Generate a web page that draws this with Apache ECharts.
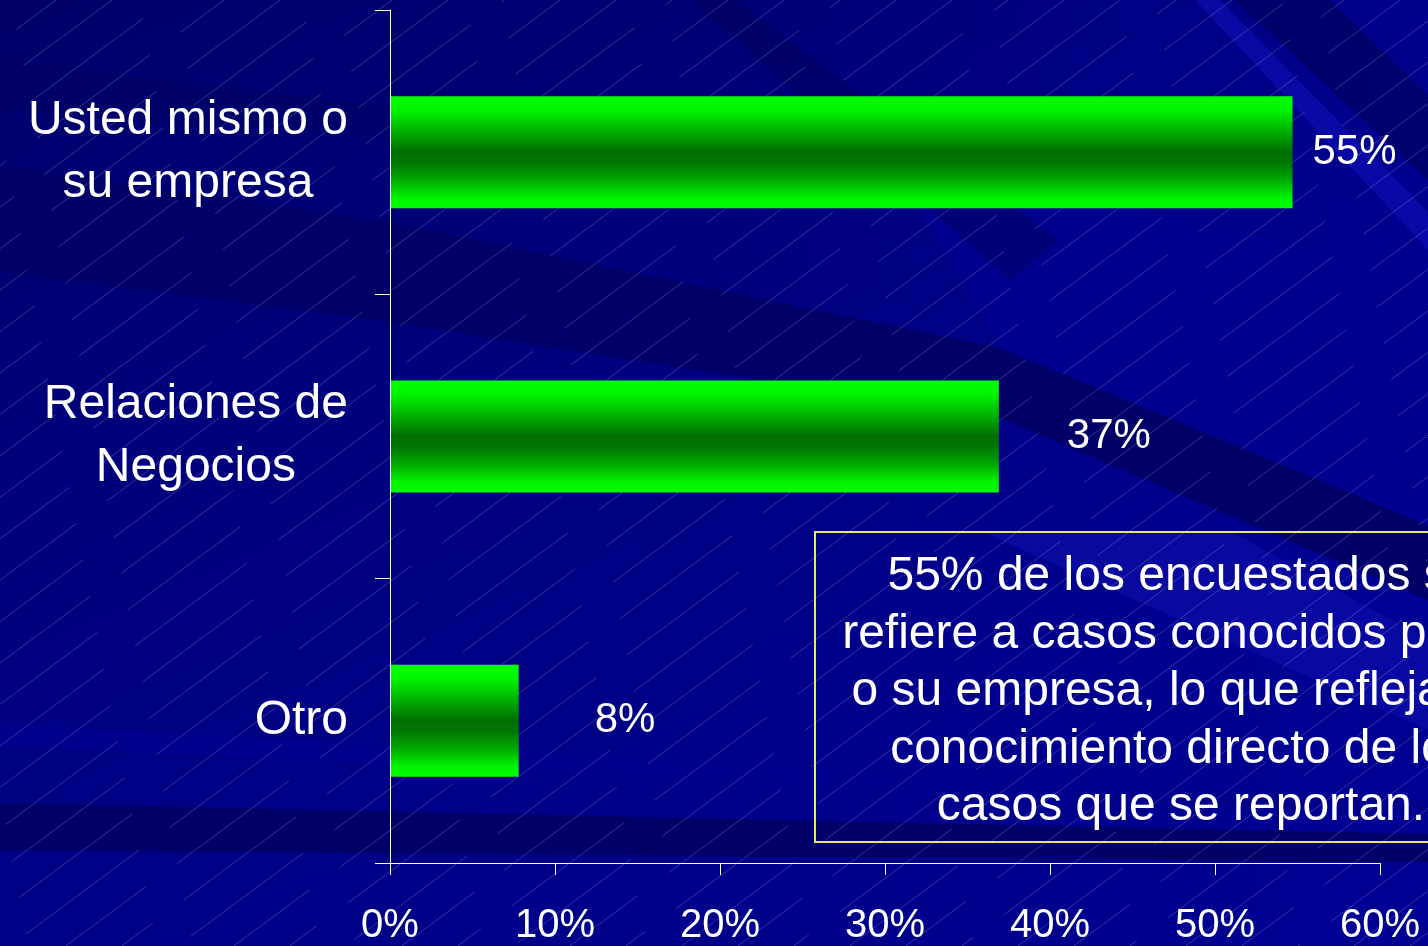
<!DOCTYPE html>
<html>
<head>
<meta charset="utf-8">
<title>Casos conocidos</title>
<script src="https://cdn.jsdelivr.net/npm/echarts@6/dist/echarts.min.js"></script>
<style>
    html, body { margin: 0; padding: 0; background: #00007c; }
    #chart { width: 1428px; height: 946px; }
</style>
</head>
<body>
<div id="chart"></div>
<script>
// datos
var categories = ['Usted mismo o\nsu empresa', 'Relaciones de\nNegocios', 'Otro'];
var values = [54.7, 36.9, 7.8];
var xTicks = [0, 10, 20, 30, 40, 50, 60];
var noteText = '55% de los encuestados se\nrefiere a casos conocidos por sí\no su empresa, lo que refleja un\nconocimiento directo de los\ncasos que se reportan.';

var FONT = '"Liberation Sans", Arial, sans-serif';
var W = 1428, H = 946;

//--------------------------------------------------------【fondo】
function drawBackground() {
    var c = document.createElement('canvas');
    c.width = W;
    c.height = H;
    var g = c.getContext('2d');

    var base = g.createLinearGradient(0, 0, 400, H);
    base.addColorStop(0, '#00006a');
    base.addColorStop(0.45, '#00007c');
    base.addColorStop(1, '#00008a');
    g.fillStyle = base;
    g.fillRect(0, 0, W, H);

    var side = g.createLinearGradient(700, 0, W, 0);
    side.addColorStop(0, 'rgba(0,0,160,0)');
    side.addColorStop(1, 'rgba(0,0,170,0.3)');
    g.fillStyle = side;
    g.fillRect(0, 0, W, H);

    var bands = [
        ['#00008e', [[880, 140], [1428, 280], [1428, 520], [1000, 350]]],
        ['#000068', [[0, 165], [390, 222], [1000, 348], [1428, 525], [1428, 600], [1000, 418], [390, 322], [0, 272]]],
        ['rgba(0,0,80,0.35)', [[690, 0], [735, 0], [1060, 240], [1010, 280]]],
        ['rgba(0,0,90,0.6)', [[1235, 0], [1330, 0], [1428, 95], [1428, 180]]],
        ['rgba(20,20,200,0.45)', [[1195, 0], [1220, 0], [1428, 212], [1428, 250]]],
        ['rgba(30,30,200,0.3)', [[980, 531], [1230, 531], [1428, 640], [1428, 730]]],
        ['#00008c', [[0, 724], [1428, 800], [1428, 815], [0, 746]]],
        ['#000068', [[0, 803], [1428, 834], [1428, 862], [0, 850]]],
        ['rgba(0,0,100,0.5)', [[0, 60], [420, 110], [420, 140], [0, 110]]]
    ];
    bands.forEach(function (b) {
        g.fillStyle = b[0];
        g.beginPath();
        b[1].forEach(function (p, i) {
            if (i === 0) g.moveTo(p[0], p[1]); else g.lineTo(p[0], p[1]);
        });
        g.closePath();
        g.fill();
    });

    // líneas finas diagonales
    var slope = 0.74, step = 56, run = H / slope;
    g.strokeStyle = 'rgba(170,170,220,0.3)';
    g.lineWidth = 1;
    g.setLineDash([140, 38]);
    var i = 0;
    for (var x0 = -run; x0 < W + step; x0 += step) {
        g.lineDashOffset = (i * 61) % 178;
        g.beginPath();
        g.moveTo(x0, H);
        g.lineTo(x0 + run, 0);
        g.stroke();
        i++;
    }
    return c;
}

//--------------------------------------------------------【gráfico】
var chart = echarts.init(document.getElementById('chart'));
var labelGap = [20, 68, 76];

chart.setOption({
    backgroundColor: {image: drawBackground(), repeat: 'no-repeat'},
    animation: false,
    grid: {left: 390, right: 48, top: 10, bottom: 82, containLabel: false},
    xAxis: {
        type: 'value',
        min: xTicks[0],
        max: xTicks[xTicks.length - 1],
        interval: xTicks[1] - xTicks[0],
        axisLine: {show: true, lineStyle: {color: '#ffffff', width: 1}},
        axisTick: {show: true, length: 12, lineStyle: {color: '#ffffff'}},
        splitLine: {show: false},
        axisLabel: {
            color: '#ffffff',
            fontSize: 40,
            fontFamily: FONT,
            margin: 43,
            formatter: '{value}%'
        }
    },
    yAxis: {
        type: 'category',
        inverse: true,
        data: categories,
        z: 5,
        axisLine: {show: true, lineStyle: {color: '#ffffff', width: 1}},
        axisTick: {show: true, length: 15, lineStyle: {color: '#ffffff'}},
        axisLabel: {
            color: '#ffffff',
            fontSize: 48,
            fontFamily: FONT,
            margin: 42,
            lineHeight: 63,
            formatter: function (v) {
                return v.split('\n').map(function (s) {
                    return '{c|' + s + '}';
                }).join('\n');
            },
            rich: {
                c: {align: 'center', color: '#ffffff', fontSize: 48, fontFamily: FONT, lineHeight: 63}
            }
        }
    },
    series: [
        {
            type: 'bar',
            barWidth: 112,
            itemStyle: {
                color: new echarts.graphic.LinearGradient(0, 0, 0, 1, [
                    {offset: 0, color: '#00ff00'},
                    {offset: 0.12, color: '#00f600'},
                    {offset: 0.3, color: '#00b400'},
                    {offset: 0.5, color: '#006e00'},
                    {offset: 0.6, color: '#007800'},
                    {offset: 0.75, color: '#00aa00'},
                    {offset: 0.9, color: '#00f000'},
                    {offset: 1, color: '#00ff00'}
                ])
            },
            label: {
                show: true,
                position: 'right',
                color: '#ffffff',
                fontSize: 42,
                fontFamily: FONT,
                formatter: function (p) {
                    return Math.round(p.value) + '%';
                }
            },
            data: values.map(function (v, i) {
                return {value: v, label: {distance: labelGap[i]}};
            })
        }
    ],
    graphic: [
        {
            type: 'rect',
            left: 814,
            top: 531,
            shape: {width: 734, height: 310},
            style: {fill: 'rgba(0,0,0,0)', stroke: '#e8e868', lineWidth: 2},
            z: 10
        },
        {
            type: 'text',
            x: 1181,
            y: 692,
            style: {
                text: noteText,
                fill: '#ffffff',
                font: '48px ' + FONT,
                lineHeight: 57.5,
                align: 'center',
                verticalAlign: 'middle'
            },
            z: 10
        }
    ]
});
</script>
</body>
</html>
